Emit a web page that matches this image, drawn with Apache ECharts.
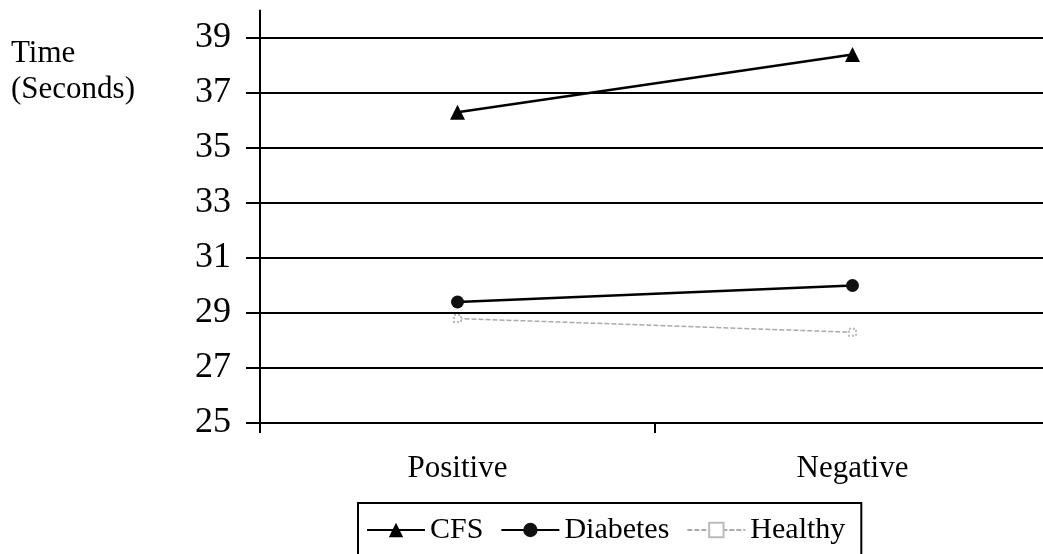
<!DOCTYPE html>
<html>
<head>
<meta charset="utf-8">
<script src="https://cdn.jsdelivr.net/npm/echarts@6/dist/echarts.min.js"></script>
<style>
  html, body { margin: 0; padding: 0; background: #fff; overflow: hidden; }
  #chart { width: 1056px; height: 554px; }
</style>
</head>
<body>
<div id="chart"></div>
<script>
// data
var categories = ['Positive', 'Negative'];
var cfs = [36.3, 38.4];
var diabetes = [29.4, 30.0];
var healthy = [28.8, 28.3];

var serif = '"Liberation Serif", "DejaVu Serif", serif';

var chart = echarts.init(document.getElementById('chart'));
window.onresize = function () { chart.resize(); };

chart.setOption({
    animation: false,
    backgroundColor: '#fff',
    grid: { left: 260, top: 10.5, right: 6, bottom: 131, containLabel: false },
    graphic: [
        { type: 'text', left: 11, top: 38, style: { text: 'Time', font: '31px ' + serif, fill: '#000' } },
        { type: 'text', left: 11, top: 74, style: { text: '(Seconds)', font: '31px ' + serif, fill: '#000' } }
    ],
    legend: {
        left: 358, top: 503,
        padding: [12, 16, 20, 8],
        borderColor: '#000', borderWidth: 2,
        itemWidth: 58, itemHeight: 18, itemGap: 17,
        textStyle: { fontFamily: serif, fontSize: 30, color: '#000' },
        data: ['CFS', 'Diabetes', 'Healthy']
    },
    xAxis: {
        type: 'category',
        data: categories,
        boundaryGap: true,
        axisLine: { lineStyle: { color: '#000', width: 2 } },
        axisTick: { show: true, length: 10, lineStyle: { color: '#000', width: 2 } },
        axisLabel: { color: '#000', fontFamily: serif, fontSize: 31, margin: 30 },
        splitLine: { show: false }
    },
    yAxis: {
        type: 'value',
        min: 25, max: 40, interval: 2,
        axisLine: { show: true, lineStyle: { color: '#000', width: 2 } },
        axisTick: { show: true, length: 14, lineStyle: { color: '#000', width: 2 } },
        axisLabel: { color: '#000', fontFamily: serif, fontSize: 36, margin: 29, showMaxLabel: false },
        splitLine: {
            show: true,
            lineStyle: { color: ['#000', '#000', '#000', '#000', '#000', '#000', '#000', '#000', 'transparent'], width: 2 }
        }
    },
    series: [
        {
            name: 'CFS', type: 'line', data: cfs,
            symbol: 'triangle', symbolSize: 15,
            lineStyle: { color: '#000', width: 2.5 },
            itemStyle: { color: '#000' }
        },
        {
            name: 'Diabetes', type: 'line', data: diabetes,
            symbol: 'circle', symbolSize: 13,
            lineStyle: { color: '#000', width: 2.5 },
            itemStyle: { color: '#111' }
        },
        {
            name: 'Healthy', type: 'line', data: healthy,
            symbol: 'emptyRect', symbolSize: 7,
            lineStyle: { color: '#aaa', width: 1.5, type: [5, 2] },
            itemStyle: { color: '#bbb', borderColor: '#bbb', borderType: 'dotted' }
        }
    ]
});
</script>
</body>
</html>
